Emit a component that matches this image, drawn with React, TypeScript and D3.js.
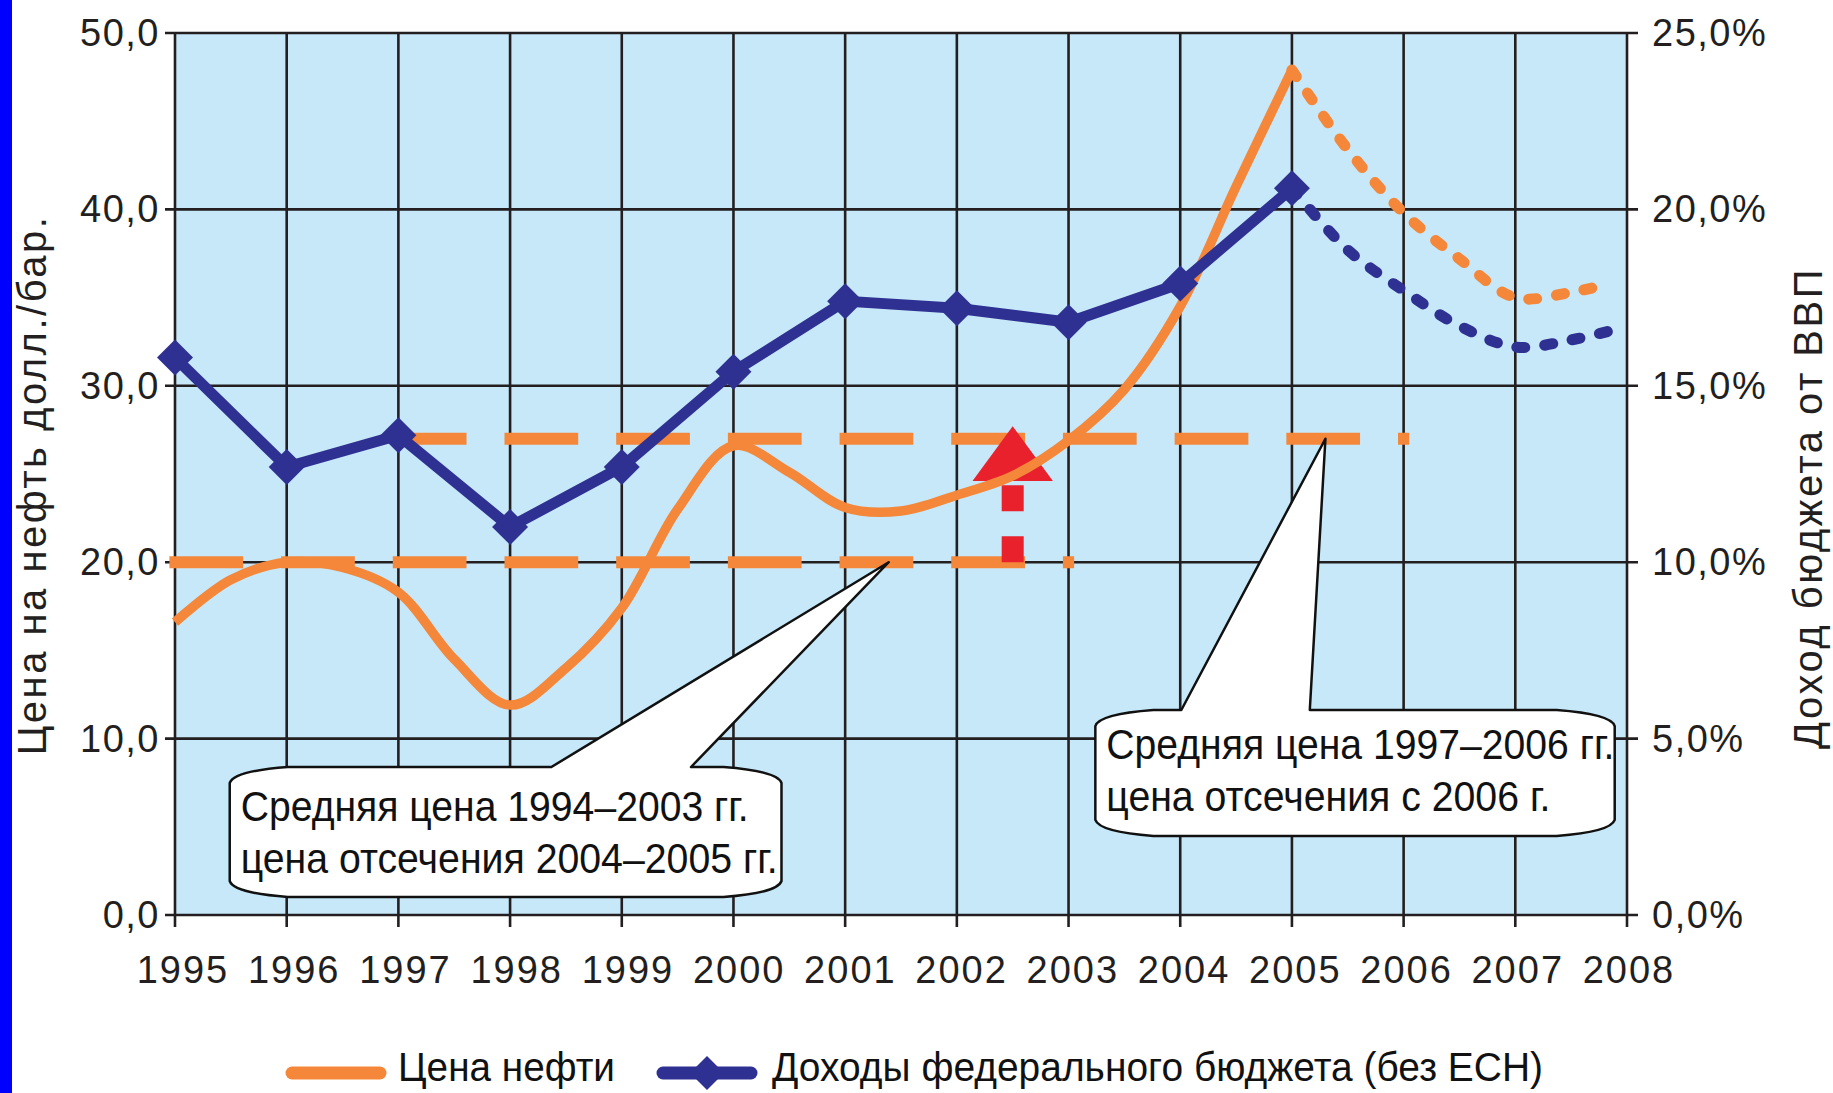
import React from 'react';
import * as d3 from 'd3';

// oil price, USD per barrel (half-year readings)
const oilYears = [1995, 1995.5, 1996, 1996.5, 1997, 1997.5, 1998, 1998.5, 1999, 1999.5, 2000, 2000.5, 2001, 2001.5, 2002, 2002.5, 2003, 2003.5, 2004, 2004.5, 2005];
const oilPrice = [16.6, 19.0, 20.0, 19.7, 18.3, 14.5, 11.9, 14.0, 17.4, 23.0, 26.6, 25.1, 23.1, 22.9, 23.8, 24.9, 26.9, 29.8, 34.5, 41.3, 47.9];
const oilForecastYears = [2005, 2005.5, 2006, 2006.5, 2007, 2007.5, 2007.85];
const oilForecast = [47.9, 43.4, 39.8, 37.2, 35.0, 35.3, 35.8];

// federal budget revenue, % of GDP
const budgetYears = [1995, 1996, 1997, 1998, 1999, 2000, 2001, 2002, 2003, 2004, 2005];
const budgetShare = [15.8, 12.7, 13.6, 11.0, 12.7, 15.4, 17.4, 17.2, 16.8, 17.9, 20.6];
const budgetForecastYears = [2005, 2005.5, 2006, 2006.5, 2007, 2007.5, 2007.9];
const budgetForecast = [20.6, 18.85, 17.7, 16.7, 16.1, 16.3, 16.6];

// cut-off prices
const cutoffValues = [20, 27];
const cutoffFrom = [1995, 1997];
const cutoffTo = [2003, 2006];

const yearTicks = [1995, 1996, 1997, 1998, 1999, 2000, 2001, 2002, 2003, 2004, 2005, 2006, 2007, 2008];
const oilTicks = [0, 10, 20, 30, 40, 50];
const pctTicks = [0, 5, 10, 15, 20, 25];

const calloutLines = [
  ['Средняя цена 1994–2003 гг.', 'цена отсечения 2004–2005 гг.'],
  ['Средняя цена 1997–2006 гг.', 'цена отсечения с 2006 г.'],
];
const calloutWidths = [[508, 537], [508, 444]];

const legendLabels = ['Цена нефти', 'Доходы федерального бюджета (без ЕСН)'];
const legendWidths = [217, 771];

const W = 1833, H = 1093;
const ORANGE = '#f4873a';
const BLUE = '#2e3192';
const RED = '#e8212d';
const GRID = '#231f20';
const FONT = '"Liberation Sans", Arial, sans-serif';

const fmt = (v: number) => v.toFixed(1).replace('.', ',');

export default function App() {
  const x = d3.scaleLinear().domain([1995, 2008]).range([175, 1627]);
  const yL = d3.scaleLinear().domain([0, 50]).range([915, 33]);
  const yR = d3.scaleLinear().domain([0, 25]).range([915, 33]);

  const oilLine = d3.line<number>().x((_, i) => x(oilYears[i])).y(d => yL(d)).curve(d3.curveCatmullRom);
  const oilFcLine = d3.line<number>().x((_, i) => x(oilForecastYears[i])).y(d => yL(d)).curve(d3.curveCatmullRom);
  const budLine = d3.line<number>().x((_, i) => x(budgetYears[i])).y(d => yR(d));
  const budFcLine = d3.line<number>().x((_, i) => x(budgetForecastYears[i])).y(d => yR(d)).curve(d3.curveCatmullRom);

  const dashOn = x(1995.66) - x(1995);
  const dashOff = x(1996) - x(1995.66);

  const diamond = (cx: number, cy: number, r: number) =>
    `M${cx},${cy - r}L${cx + r},${cy}L${cx},${cy + r}L${cx - r},${cy}Z`;

  // callout geometry in data units (year, oil price)
  const callouts = [
    { l: 1995.49, r: 2000.43, t: 8.39, b: 1.02, ta: 1998.37, tb: 1999.62, ax: 2001.39, ay: 20 },
    { l: 2003.24, r: 2007.89, t: 11.62, b: 4.48, ta: 2004.01, tb: 2005.16, ax: 2005.30, ay: 27 },
  ];
  const calloutPath = (c: typeof callouts[0]) => {
    const L = x(c.l), R = x(c.r), T = yL(c.t), B = yL(c.b);
    const cw = 58, ch = 16;
    return `M${L},${T + ch}Q${L + 4},${T + 4} ${L + cw},${T}L${x(c.ta)},${T}L${x(c.ax)},${yL(c.ay)}L${x(c.tb)},${T}` +
      `L${R - cw},${T}Q${R - 4},${T + 4} ${R},${T + ch}L${R},${B - ch}Q${R - 4},${B - 4} ${R - cw},${B}` +
      `L${L + cw},${B}Q${L + 4},${B - 4} ${L},${B - ch}Z`;
  };

  // red arrow at 2002.5 from 20 up to the new cut-off
  const arrowX = x(2002.5);
  const arrowHalf = x(2002.86) - x(2002.5);

  return (
    <svg width={W} height={H} style={{ position: 'absolute', left: 0, top: 0, background: '#fff' }} fontFamily={FONT}>
      <rect x={0} y={0} width={12} height={H} fill="#0000ff" />
      <rect x={x(1995)} y={yL(50)} width={x(2008) - x(1995)} height={yL(0) - yL(50)} fill="#c7e8f8" />

      {/* grid */}
      {yearTicks.map(t => (
        <line key={'v' + t} x1={x(t)} x2={x(t)} y1={yL(50)} y2={yL(0) + 12} stroke={GRID} strokeWidth={2.6} />
      ))}
      {oilTicks.map(t => (
        <line key={'h' + t} x1={x(1995) - 10} x2={x(2008) + 11} y1={yL(t)} y2={yL(t)} stroke={GRID} strokeWidth={2.6} />
      ))}

      {/* tick labels */}
      {oilTicks.map(t => (
        <text key={'l' + t} x={160} y={yL(t) + 13} textAnchor="end" fontSize={38} letterSpacing={1.5} fill="#231f20">{fmt(t)}</text>
      ))}
      {pctTicks.map(t => (
        <text key={'r' + t} x={1652} y={yR(t) + 13} fontSize={38} letterSpacing={1.5} fill="#231f20">{fmt(t) + '%'}</text>
      ))}
      {yearTicks.map(t => (
        <text key={'y' + t} x={x(t) + 2 + 6 * (2008 - t) / 13} y={983} textAnchor="middle" fontSize={38} letterSpacing={2} fill="#231f20">{t}</text>
      ))}

      <text transform={`translate(46,${485}) rotate(-90)`} textAnchor="middle" fontSize={40} letterSpacing={2.5} fill="#231f20">Цена на нефть долл./бар.</text>
      <text transform={`translate(1822,${508}) rotate(-90)`} textAnchor="middle" fontSize={40} letterSpacing={2.5} fill="#231f20">Доход бюджета от ВВП</text>

      {/* cut-off lines */}
      {cutoffValues.map((v, i) => (
        <line key={'c' + i} x1={x(cutoffFrom[i] - 0.05)} x2={x(cutoffTo[i] + 0.05)} y1={yL(v)} y2={yL(v)}
          stroke={ORANGE} strokeWidth={12} strokeDasharray={`${dashOn} ${dashOff}`} />
      ))}

      {/* red arrow */}
      <line x1={arrowX} x2={arrowX} y1={yL(cutoffValues[0])} y2={yL(24.6)} stroke={RED} strokeWidth={22} strokeDasharray="26 25" />
      <path d={`M${arrowX},${yL(27.7)}L${arrowX + arrowHalf},${yL(24.6)}L${arrowX - arrowHalf},${yL(24.6)}Z`} fill={RED} />

      {/* oil price */}
      <path d={oilLine(oilPrice) || ''} fill="none" stroke={ORANGE} strokeWidth={9.5} strokeLinejoin="round" />
      <path d={oilFcLine(oilForecast) || ''} fill="none" stroke={ORANGE} strokeWidth={11} strokeDasharray="8 20" strokeLinecap="round" />

      {/* budget revenue */}
      <path d={budFcLine(budgetForecast) || ''} fill="none" stroke={BLUE} strokeWidth={11} strokeDasharray="8 20" strokeLinecap="round" />
      <path d={budLine(budgetShare) || ''} fill="none" stroke={BLUE} strokeWidth={11} strokeLinejoin="round" />
      {budgetShare.map((v, i) => (
        <path key={'d' + i} d={diamond(x(budgetYears[i]), yR(v), 18)} fill={BLUE} />
      ))}

      {/* callouts */}
      {callouts.map((c, i) => (
        <g key={'co' + i}>
          <path d={calloutPath(c)} fill="#fff" stroke="#111" strokeWidth={2.5} strokeLinejoin="round" />
          {calloutLines[i].map((s, j) => (
            <text key={j} x={x(c.l) + 11} y={yL(c.t) + (i === 0 ? 54 : 49) + j * 52} fontSize={42}
              textLength={calloutWidths[i][j]} lengthAdjust="spacingAndGlyphs" fill="#111">{s}</text>
          ))}
        </g>
      ))}

      {/* legend */}
      <line x1={292} x2={380} y1={1073} y2={1073} stroke={ORANGE} strokeWidth={13} strokeLinecap="round" />
      <text x={398} y={1081} fontSize={41} textLength={legendWidths[0]} lengthAdjust="spacingAndGlyphs" fill="#111">{legendLabels[0]}</text>
      <line x1={663} x2={751} y1={1073} y2={1073} stroke={BLUE} strokeWidth={13} strokeLinecap="round" />
      <path d={diamond(707, 1073, 17)} fill={BLUE} />
      <text x={772} y={1081} fontSize={41} textLength={legendWidths[1]} lengthAdjust="spacingAndGlyphs" fill="#111">{legendLabels[1]}</text>
    </svg>
  );
}
